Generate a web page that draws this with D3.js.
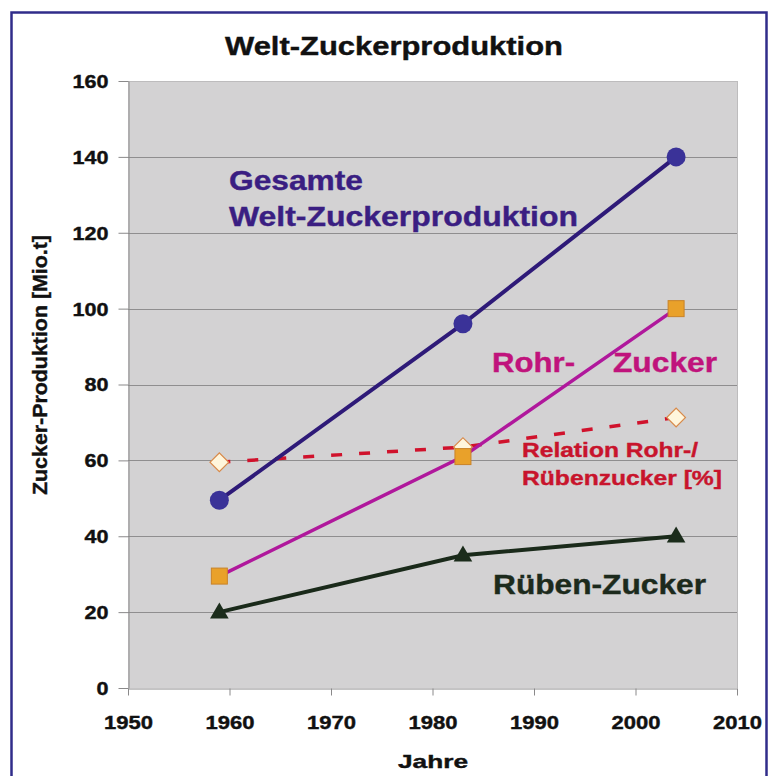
<!DOCTYPE html>
<html>
<head>
<meta charset="utf-8">
<script src="https://cdn.jsdelivr.net/npm/d3@7"></script>
<style>
  html, body { margin: 0; padding: 0; background: #ffffff; }
  svg { display: block; }
  text { font-family: Arial, "Liberation Sans", Helvetica, sans-serif; font-weight: bold; }
</style>
</head>
<body>
<svg id="chart" width="771" height="776"></svg>
<script>
// Welt-Zuckerproduktion (Mio. t) and cane/beet ratio (%)
const years = [1959, 1983, 2004];
const gesamt = [49.5, 96, 140];
const rohrZucker = [29.5, 61, 100];
const ruebenZucker = [20, 35, 40];
const relation = [59.5, 63.5, 71.3];

const xTicks = [1950, 1960, 1970, 1980, 1990, 2000, 2010];
const yTicks = [0, 20, 40, 60, 80, 100, 120, 140, 160];

const svg = d3.select("#chart");

// frame around the whole figure
svg.append("rect")
  .attr("x", 11.5).attr("y", 12.5)
  .attr("width", 755).attr("height", 800)
  .attr("fill", "#ffffff")
  .attr("stroke", "#302c8a").attr("stroke-width", 2.5);

const plot = { left: 128, top: 81, right: 737, bottom: 688 };

const x = d3.scaleLinear().domain([1950, 2010]).range([plot.left, plot.right]);
const y = d3.scaleLinear().domain([0, 160]).range([plot.bottom, plot.top]);

// plot background
svg.append("rect")
  .attr("x", plot.left).attr("y", plot.top)
  .attr("width", plot.right - plot.left).attr("height", plot.bottom - plot.top)
  .attr("fill", "#d3d2d3");

// horizontal gridlines
svg.append("g").selectAll("line")
  .data(yTicks.filter(d => d > 0))
  .join("line")
  .attr("x1", plot.left).attr("x2", plot.right)
  .attr("y1", d => Math.round(y(d)) + 0.5).attr("y2", d => Math.round(y(d)) + 0.5)
  .attr("stroke", d => d === 160 ? "#bdbcbd" : "#8f8e8f")
  .attr("stroke-width", 1);

// right edge of plot
svg.append("line")
  .attr("x1", plot.right + 0.5).attr("x2", plot.right + 0.5)
  .attr("y1", plot.top).attr("y2", plot.bottom)
  .attr("stroke", "#bdbcbd");

// y axis
const yAxis = svg.append("g")
  .attr("transform", `translate(${plot.left + 0.5},0)`)
  .call(d3.axisLeft(y).tickValues(yTicks).tickSize(10).tickPadding(10).tickSizeOuter(0));
yAxis.select(".domain").attr("stroke", "#8a898a");
yAxis.selectAll(".tick line").attr("stroke", "#8a898a");
yAxis.selectAll(".tick text")
  .attr("fill", "#111111")
  .attr("stroke", "#111111").attr("stroke-width", 0.4)
  .style("font-size", "18px")
  .attr("dy", "0.36em")
  .attr("textLength", d => String(d).length * 12)
  .attr("lengthAdjust", "spacingAndGlyphs");

// x axis
const xAxis = svg.append("g")
  .attr("transform", `translate(0,${plot.bottom + 0.5})`)
  .call(d3.axisBottom(x).tickValues(xTicks).tickFormat(d3.format("d")).tickSize(7).tickPadding(0).tickSizeOuter(0));
xAxis.select(".domain").attr("stroke", "#8a898a");
xAxis.selectAll(".tick line").attr("stroke", "#8a898a");
xAxis.selectAll(".tick text")
  .attr("fill", "#111111")
  .attr("stroke", "#111111").attr("stroke-width", 0.4)
  .style("font-size", "18px")
  .attr("y", 40).attr("dy", 0)
  .attr("textLength", 49)
  .attr("lengthAdjust", "spacingAndGlyphs");

// helper for labels with a fixed drawn width
function label(str, xPos, yBase, size, width, color, anchor) {
  return svg.append("text")
    .attr("x", xPos).attr("y", yBase)
    .attr("text-anchor", anchor || "start")
    .attr("fill", color)
    .attr("stroke", color).attr("stroke-width", 0.4)
    .style("font-size", size + "px")
    .attr("textLength", width)
    .attr("lengthAdjust", "spacingAndGlyphs")
    .text(str);
}

// titles
label("Welt-Zuckerproduktion", 394, 55, 25, 338, "#111111", "middle");
label("Jahre", 433, 768, 19, 70, "#111111", "middle");
svg.append("text")
  .attr("transform", "translate(47,365) rotate(-90)")
  .attr("text-anchor", "middle")
  .attr("fill", "#111111")
  .attr("stroke", "#111111").attr("stroke-width", 0.4)
  .style("font-size", "21px")
  .attr("textLength", 260)
  .attr("lengthAdjust", "spacingAndGlyphs")
  .text("Zucker-Produktion [Mio.t]");

const pts = vals => vals.map((v, i) => [years[i], v]);
const line = d3.line().x(d => x(d[0])).y(d => y(d[1]));

// cane/beet ratio, dashed
svg.append("path")
  .attr("d", line(pts(relation)))
  .attr("fill", "none")
  .attr("stroke", "#d0122c").attr("stroke-width", 3.5)
  .attr("stroke-dasharray", "11,17");
svg.append("g").selectAll("path")
  .data(pts(relation))
  .join("path")
  .attr("d", d3.symbol(d3.symbolSquare, 175))
  .attr("transform", d => `translate(${x(d[0])},${y(d[1])}) rotate(45)`)
  .attr("fill", "#fff6dc").attr("stroke", "#d88a4a").attr("stroke-width", 1.2);

// beet sugar
svg.append("path")
  .attr("d", line(pts(ruebenZucker)))
  .attr("fill", "none")
  .attr("stroke", "#1a2a1a").attr("stroke-width", 4);
svg.append("g").selectAll("path")
  .data(pts(ruebenZucker))
  .join("path")
  .attr("d", d3.symbol(d3.symbolTriangle, 150))
  .attr("transform", d => `translate(${x(d[0])},${y(d[1]) + 1})`)
  .attr("fill", "#1b2c1b");

// cane sugar
svg.append("path")
  .attr("d", line(pts(rohrZucker)))
  .attr("fill", "none")
  .attr("stroke", "#b0189c").attr("stroke-width", 3.5);
svg.append("g").selectAll("rect")
  .data(pts(rohrZucker))
  .join("rect")
  .attr("x", d => x(d[0]) - 8).attr("y", d => y(d[1]) - 8)
  .attr("width", 16).attr("height", 16)
  .attr("fill", "#e9a12a").attr("stroke", "#c98328").attr("stroke-width", 1);

// total production
svg.append("path")
  .attr("d", line(pts(gesamt)))
  .attr("fill", "none")
  .attr("stroke", "#2e1a78").attr("stroke-width", 4);
svg.append("g").selectAll("circle")
  .data(pts(gesamt))
  .join("circle")
  .attr("cx", d => x(d[0])).attr("cy", d => y(d[1]))
  .attr("r", 9.5)
  .attr("fill", "#3a3298");

// series labels
label("Gesamte", 229, 190, 28, 134, "#3a1e82");
label("Welt-Zuckerproduktion", 229, 226, 28, 349, "#3a1e82");
label("Rohr-", 492, 372, 28, 83, "#c0137c");
label("Zucker", 613, 372, 28, 104, "#c0137c");
label("Relation Rohr-/", 522, 457, 21, 176, "#c8142c");
label("Rübenzucker [%]", 522, 485, 21, 200, "#c8142c");
label("Rüben-Zucker", 493, 594, 28, 213, "#1c2a1c");
</script>
</body>
</html>
